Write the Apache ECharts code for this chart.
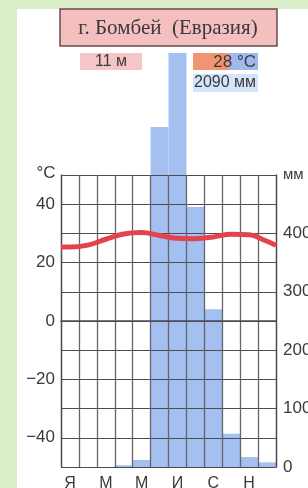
<!DOCTYPE html>
<html>
<head>
<meta charset="utf-8">
<script src="https://cdn.jsdelivr.net/npm/echarts@6/dist/echarts.min.js"></script>
<style>
  html, body { margin: 0; padding: 0; background: #fff; }
  #chart { width: 308px; height: 488px; }
</style>
</head>
<body>
<div id="chart"></div>
<script>
// month letters (only every other one is printed)
const months = ['Я', '', 'М', '', 'М', '', 'И', '', 'С', '', 'Н', ''];
// monthly precipitation, mm
const precip = [0, 0, 0, 3, 12, 582, 709, 445, 270, 57, 17, 8];
// monthly mean temperature, °C
const temps = [25.3, 26.0, 28.0, 29.8, 30.3, 29.3, 28.3, 28.2, 28.8, 29.7, 29.5, 27.3];
// temperature read at the left and right edge of the grid
const tempEdges = [25.3, 25.9];
const tempTicks = [-40, -20, 0, 20, 40];
const precipTicks = [0, 100, 200, 300, 400];

const font = 'Liberation Sans';
const ink = '#3a3a3a';
const gridInk = '#4d4a55';

// line points sit at month centres on a 0..12 value axis
const tempLine = [[0, tempEdges[0]]]
  .concat(temps.map((t, i) => [i + 0.5, t]))
  .concat([[12, tempEdges[1]]]);

const chart = echarts.init(document.getElementById('chart'));

function label(text, x, y, size, align, family) {
  return {
    type: 'text', x: x, y: y, z: 11,
    style: {
      text: text, fontSize: size, fontFamily: family || font,
      fill: ink, align: align || 'center', verticalAlign: 'middle'
    }
  };
}

chart.setOption({
  animation: false,
  backgroundColor: '#fff',
  grid: { left: 61, right: 32, top: 175, bottom: 21, outerBoundsMode: 'none' },
  xAxis: [
    {
      type: 'category',
      data: months,
      z: 3,
      axisLine: { lineStyle: { color: gridInk, width: 1.5 } },
      axisTick: { show: false },
      axisLabel: { interval: 0, color: ink, fontFamily: font, fontSize: 16, margin: 9 },
      splitLine: { show: true, interval: 0, lineStyle: { color: '#666', width: 1.3 } }
    },
    { type: 'value', min: 0, max: 12, show: false }
  ],
  yAxis: [
    {
      type: 'value',
      min: -50, max: 50, interval: 10,
      z: 3,
      axisLine: { show: true, lineStyle: { color: gridInk, width: 1.3 } },
      axisTick: { show: false },
      axisLabel: {
        color: ink, fontFamily: font, fontSize: 17, margin: 6,
        formatter: v => tempTicks.includes(v) ? (v < 0 ? '\u2212' + (-v) : String(v)) : ''
      },
      splitLine: { show: true, lineStyle: { color: gridInk, width: 1.2 } }
    },
    {
      type: 'value',
      min: 0, max: 500, interval: 50,
      position: 'right',
      z: 3,
      axisLine: { show: true, lineStyle: { color: gridInk, width: 1.3 } },
      axisTick: { show: false },
      axisLabel: {
        color: ink, fontFamily: font, fontSize: 17, margin: 7,
        formatter: v => precipTicks.includes(v) ? String(v) : ''
      },
      splitLine: { show: false }
    }
  ],
  series: [
    {
      name: 'Осадки',
      type: 'bar',
      xAxisIndex: 0,
      yAxisIndex: 1,
      data: precip,
      barCategoryGap: 0,
      clip: false,
      z: 1,
      itemStyle: { color: '#a3c0f1' }
    },
    {
      name: 'Температура',
      type: 'line',
      xAxisIndex: 1,
      yAxisIndex: 0,
      data: tempLine,
      smooth: 0.4,
      showSymbol: false,
      z: 5,
      lineStyle: { color: '#e4424c', width: 5 }
    }
  ],
  graphic: [
    // green page margin
    { type: 'rect', shape: { x: 0, y: 0, width: 17, height: 488 }, style: { fill: '#d9edc6' }, z: -1 },
    { type: 'rect', shape: { x: 0, y: 0, width: 308, height: 9 }, style: { fill: '#d9edc6' }, z: -1 },
    // title
    {
      type: 'rect', shape: { x: 60, y: 9, width: 217, height: 37 },
      style: { fill: '#f3bfbf', stroke: '#6a4c4c', lineWidth: 1.5 }, z: 10
    },
    label('г. Бомбей  (Евразия)', 168, 28, 21, 'center', 'Liberation Serif'),
    // altitude
    { type: 'rect', shape: { x: 80, y: 53, width: 62, height: 17 }, style: { fill: '#f6c6c6' }, z: 10 },
    label('11 м', 111, 62, 16),
    // annual temperature
    {
      type: 'rect', shape: { x: 193, y: 53, width: 65, height: 17 }, z: 10,
      style: {
        fill: new echarts.graphic.LinearGradient(0, 0, 1, 0, [
          { offset: 0, color: '#f19471' },
          { offset: 0.5, color: '#f19471' },
          { offset: 0.6, color: '#9fb8ee' },
          { offset: 1, color: '#9fb8ee' }
        ])
      }
    },
    label('28 °C', 256, 62, 17, 'right'),
    // annual precipitation
    { type: 'rect', shape: { x: 193, y: 74, width: 65, height: 18 }, style: { fill: '#d4e4fa' }, z: 10 },
    label('2090 мм', 225, 83, 16),
    // axis units
    label('°C', 46, 173, 17),
    label('мм', 283, 175, 15, 'left')
  ]
});
</script>
</body>
</html>
